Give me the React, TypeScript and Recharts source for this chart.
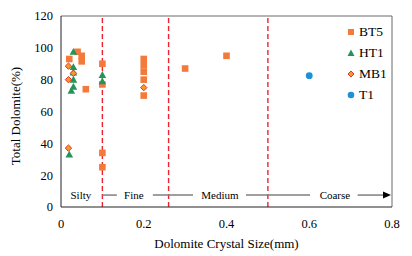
import React from 'react';
import {
  ScatterChart, Scatter, XAxis, YAxis, ReferenceLine, ReferenceDot, Legend,
} from 'recharts';

const FONT = "'Liberation Serif', 'DejaVu Serif', 'Times New Roman', Times, serif";

// Series data
const bt5X = [0.02, 0.04, 0.05, 0.05, 0.06, 0.1, 0.1, 0.1, 0.1, 0.2, 0.2, 0.2, 0.2, 0.2, 0.3, 0.4];
const bt5Y = [93, 97.5, 95, 91.5, 74, 90, 77, 34, 25, 93, 89, 85, 80, 70, 87, 95];
const ht1X = [0.03, 0.03, 0.03, 0.03, 0.03, 0.025, 0.02, 0.1, 0.1];
const ht1Y = [97.5, 88, 84.5, 80, 75.5, 73, 33, 83, 79];
const mb1X = [0.018, 0.03, 0.018, 0.018, 0.2];
const mb1Y = [88.5, 84, 80, 37, 75];
const t1X = [0.6];
const t1Y = [82.5];

const xTicks = [0, 0.2, 0.4, 0.6, 0.8];
const yTicks = [0, 20, 40, 60, 80, 100, 120];
const boundaries = [0.1, 0.26, 0.5];
const classNames = ['Silty', 'Fine', 'Medium', 'Coarse'];
const classCenters = [0.048, 0.176, 0.384, 0.662];
const arrowY = 7.5;
const arrowSegments: [number, number][] = [[0.1, 0.135], [0.222, 0.319], [0.447, 0.602], [0.717, 0.785]];

const zip = (xs: number[], ys: number[]) => xs.map((x, i) => ({ x, y: ys[i] }));
const bt5 = zip(bt5X, bt5Y);
const ht1 = zip(ht1X, ht1Y);
const mb1 = zip(mb1X, mb1Y);
const t1 = zip(t1X, t1Y);

const ORANGE = '#F37A3B';
const GREEN = '#27935A';
const RED = '#E5322A';
const YELLOW = '#F39A2C';
const BLUE = '#1E90D6';

const Square = (p: any) => <rect x={p.cx - 3.3} y={p.cy - 3.3} width={6.6} height={6.6} fill={ORANGE} />;
const Tri = (p: any) => (
  <path d={`M${p.cx},${p.cy - 3.8} L${p.cx + 3.8},${p.cy + 3} L${p.cx - 3.8},${p.cy + 3} Z`} fill={GREEN} />
);
const Diamond = (p: any) => (
  <path d={`M${p.cx},${p.cy - 3.2} L${p.cx + 3.2},${p.cy} L${p.cx},${p.cy + 3.2} L${p.cx - 3.2},${p.cy} Z`}
    fill={YELLOW} stroke={RED} strokeWidth={1} />
);
const Circle = (p: any) => <circle cx={p.cx} cy={p.cy} r={3.4} fill={BLUE} />;

const legendItems = [
  { name: 'BT5', kind: 'sq' },
  { name: 'HT1', kind: 'tri' },
  { name: 'MB1', kind: 'dia' },
  { name: 'T1', kind: 'cir' },
];

const LegendMark = ({ kind }: { kind: string }) => {
  let el: React.ReactNode = null;
  if (kind === 'sq') el = <rect x={2} y={2} width={6} height={6} fill={ORANGE} />;
  if (kind === 'tri') el = <path d="M5,1.5 L8.5,8 L1.5,8 Z" fill={GREEN} />;
  if (kind === 'dia') el = <path d="M5,2 L8,5 L5,8 L2,5 Z" fill={YELLOW} stroke={RED} strokeWidth={1} />;
  if (kind === 'cir') el = <circle cx={5} cy={5} r={3.3} fill={BLUE} />;
  return <svg width={10} height={10} style={{ display: 'block' }}>{el}</svg>;
};

const LegendContent = () => (
  <div style={{ fontFamily: FONT, fontSize: 13.5, color: '#000' }}>
    {legendItems.map((it) => (
      <div key={it.name} style={{ display: 'flex', alignItems: 'center', height: 20.8 }}>
        <LegendMark kind={it.kind} />
        <span style={{ marginLeft: 3, lineHeight: '14px' }}>{it.name}</span>
      </div>
    ))}
  </div>
);

const ArrowHead = (p: any) => (
  <path d={`M${p.cx - 1},${p.cy} L${p.cx - 9},${p.cy - 3.5} L${p.cx - 9},${p.cy + 3.5} Z`} fill="#000" />
);

const makeLabel = (text: string) => (p: any) => (
  <text x={p.cx} y={p.cy} dy="0.35em" textAnchor="middle" style={{ fontFamily: FONT }} fontSize={11} fill="#000">{text}</text>
);

const YLabel = () => (
  <text x={0} y={0} transform="translate(20,116) rotate(-90)" textAnchor="middle"
    style={{ fontFamily: FONT }} fontSize={13} fill="#000">Total Dolomite(%)</text>
);

export default function App() {
  return (
    <div style={{ position: 'absolute', left: 0, top: 0, width: 412, height: 256, background: '#fff', fontFamily: FONT }}>
      <ScatterChart width={412} height={256} margin={{ top: 16, right: 20, left: 0, bottom: 0 }} style={{ fontFamily: FONT }}>
        <XAxis type="number" dataKey="x" domain={[0, 0.8]} ticks={xTicks} tickLine={false}
          axisLine={{ stroke: '#222' }} tickMargin={6} height={49}
          tick={{ style: { fontFamily: FONT }, fontSize: 12.5, fill: '#000' }}
          label={{ value: 'Dolomite Crystal Size(mm)', position: 'insideBottom', offset: 8, style: { fontFamily: FONT }, fontSize: 13, fill: '#000' }} />
        <YAxis type="number" dataKey="y" domain={[0, 120]} ticks={yTicks} tickLine={false}
          axisLine={{ stroke: '#222' }} width={61}
          tick={{ style: { fontFamily: FONT }, fontSize: 12.5, fill: '#000' }}
          label={{ content: YLabel }} />
        <ReferenceLine y={120} stroke="#6b6b6b" strokeWidth={1} />
        <ReferenceLine x={0.8} stroke="#6b6b6b" strokeWidth={1} />
        {boundaries.map((b) => (
          <ReferenceLine key={b} x={b} stroke="#EE2233" strokeWidth={1.4} strokeDasharray="5 3" />
        ))}
        {arrowSegments.map(([a, b], i) => (
          <ReferenceLine key={'s' + i} segment={[{ x: a, y: arrowY }, { x: b, y: arrowY }]} stroke="#7f7f7f" strokeWidth={1.5} />
        ))}
        <ReferenceDot x={0.8} y={arrowY} shape={ArrowHead} />
        {classNames.map((n, i) => (
          <ReferenceDot key={n} x={classCenters[i]} y={arrowY} shape={makeLabel(n)} />
        ))}
        <Scatter name="BT5" data={bt5} shape={Square} isAnimationActive={false} />
        <Scatter name="HT1" data={ht1} shape={Tri} isAnimationActive={false} />
        <Scatter name="MB1" data={mb1} shape={Diamond} isAnimationActive={false} />
        <Scatter name="T1" data={t1} shape={Circle} isAnimationActive={false} />
        <Legend layout="vertical" align="center" verticalAlign="middle" content={LegendContent}
          wrapperStyle={{ left: 346, top: 22, width: 60, height: 84 }} />
      </ScatterChart>
    </div>
  );
}
